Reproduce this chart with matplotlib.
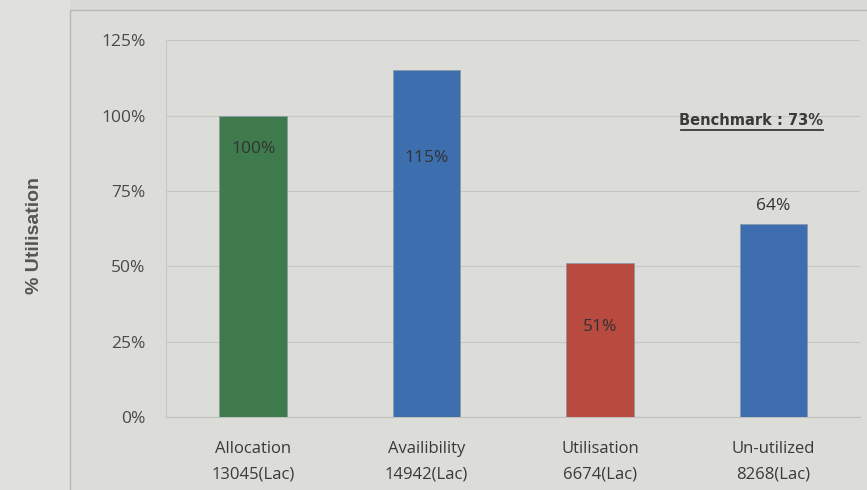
import matplotlib.pyplot as plt
from matplotlib.patches import Rectangle
from matplotlib.ticker import PercentFormatter

# data
categories = ["Allocation\n13045(Lac)", "Availibility\n14942(Lac)",
              "Utilisation\n6674(Lac)", "Un-utilized\n8268(Lac)"]
values = [100, 115, 51, 64]
bar_colors = ["#3e7a4c", "#3d6fae", "#b84a40", "#3e6db0"]
yticks = [0, 25, 50, 75, 100, 125]
benchmark_text = "Benchmark : 73%"

# offset of each value label from the bar top (in % units)
label_offsets = [-11, -29, -21, 6]

plt.rcParams["font.family"] = ["Open Sans", "DejaVu Sans"]

fig = plt.figure(figsize=(8.67, 4.9), dpi=100)
fig.patch.set_facecolor("#d9d9d5")

# lighter strip on the left and the outer chart frame
fig.patches.append(Rectangle((0, 0), 0.081, 1, transform=fig.transFigure,
                             facecolor="#e0e0dc", edgecolor="none", zorder=-5))
fig.patches.append(Rectangle((0.081, -0.01), 1.0, 0.99, transform=fig.transFigure,
                             facecolor="#dcdcd8", edgecolor="#b8b8b4", lw=1, zorder=-5))

ax = fig.add_axes([0.192, 0.149, 0.80, 0.769])
ax.set_zorder(2)
ax.set_facecolor("#dcdcd8")

x = range(len(categories))
bars = ax.bar(x, values, width=0.39, color=bar_colors, edgecolor="#8a9aa8", lw=0.6, zorder=3)

for b, v, off in zip(bars, values, label_offsets):
    ax.text(b.get_x() + b.get_width() / 2, v + off, f"{v}%", ha="center", va="center",
            fontsize=12.5, color="#333333", zorder=4)

ax.set_ylim(0, 125)
ax.set_xlim(-0.5, 3.5)
ax.set_yticks(yticks)
ax.yaxis.set_major_formatter(PercentFormatter(decimals=0))
ax.set_xticks(list(x))
ax.set_xticklabels(categories, fontsize=12, color="#3a3a3a", linespacing=1.8)
ax.tick_params(axis="y", labelsize=12.5, labelcolor="#4a4a4a", length=0, pad=15)
ax.tick_params(axis="x", length=0, pad=17)
ax.grid(axis="y", color="#c6c6c2", lw=0.8, zorder=0)
for s in ["top", "right"]:
    ax.spines[s].set_visible(False)
ax.spines["left"].set_color("#c8c8c4")
ax.spines["bottom"].set_color("#c0c0bc")

ax.text(0.947, 0.788, benchmark_text, transform=ax.transAxes, ha="right", va="center",
        fontsize=10.5, fontweight="bold", color="#3a3a3a", family="Liberation Sans Narrow")
ax.plot([0.742, 0.947], [0.762, 0.762], transform=ax.transAxes, color="#3a3a3a", lw=1.3)

fig.text(0.04, 0.52, "% Utilisation", rotation=90, ha="center", va="center",
         fontsize=14, fontweight="bold", color="#555555", family="Liberation Sans")

fig.savefig("out.png", dpi=100, facecolor=fig.get_facecolor())
